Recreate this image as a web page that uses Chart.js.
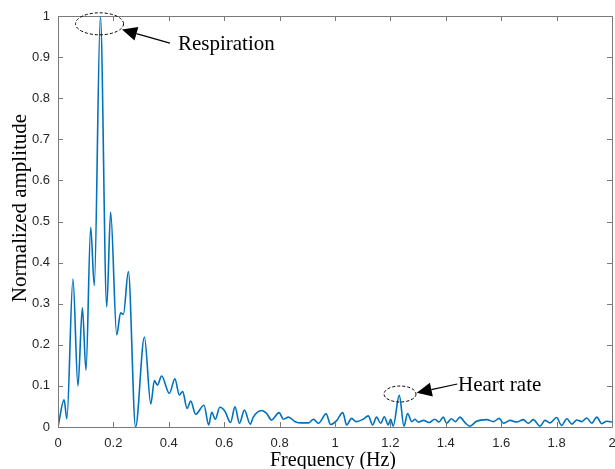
<!DOCTYPE html>
<html>
<head>
<meta charset="utf-8">
<script src="https://cdn.jsdelivr.net/npm/chart.js@4/dist/chart.umd.min.js"></script>
<style>
  html, body { margin: 0; padding: 0; background: #ffffff; }
  #wrap { width: 615px; height: 469px; position: relative; }
</style>
</head>
<body>
<div id="wrap"><canvas id="c" width="615" height="469"></canvas></div>
<script>
// ---- data ----
const frequencyHz = [
  0, 0.022, 0.032, 0.054, 0.072, 0.088, 0.101, 0.118, 0.131, 0.153,
  0.176, 0.190, 0.212, 0.226, 0.236, 0.254, 0.280, 0.312, 0.335, 0.348,
  0.359, 0.374, 0.402, 0.422, 0.438, 0.450, 0.466, 0.479, 0.497, 0.527,
  0.544, 0.555, 0.568, 0.584, 0.602, 0.623, 0.639, 0.655, 0.673, 0.694,
  0.705, 0.735, 0.753, 0.771, 0.798, 0.814, 0.832, 0.856, 0.880, 0.905,
  0.922, 0.940, 0.968, 0.984, 1.005, 1.028, 1.042, 1.060, 1.076, 1.102,
  1.120, 1.136, 1.150, 1.165, 1.178, 1.192, 1.201, 1.210, 1.232, 1.249,
  1.262, 1.277, 1.289, 1.300, 1.320, 1.340, 1.360, 1.375, 1.391, 1.403,
  1.420, 1.435, 1.451, 1.470, 1.487, 1.511, 1.548, 1.572, 1.593, 1.608,
  1.632, 1.656, 1.680, 1.698, 1.716, 1.740, 1.758, 1.776, 1.800, 1.818,
  1.837, 1.855, 1.873, 1.891, 1.909, 1.927, 1.945, 1.963, 1.981, 2.000
];
const normalizedAmplitude = [
  0.000, 0.066, 0.020, 0.360, 0.100, 0.290, 0.138, 0.486, 0.344, 1.000,
  0.292, 0.523, 0.224, 0.278, 0.274, 0.378, 0.000, 0.219, 0.056, 0.113,
  0.102, 0.124, 0.082, 0.117, 0.078, 0.086, 0.045, 0.063, 0.031, 0.053,
  0.005, 0.036, 0.019, 0.048, 0.039, 0.011, 0.049, 0.009, 0.041, 0.007,
  0.024, 0.040, 0.033, 0.017, 0.035, 0.019, 0.024, 0.013, 0.010, 0.010,
  0.019, 0.009, 0.032, 0.006, 0.015, 0.035, 0.005, 0.021, 0.013, 0.019,
  0.027, 0.005, 0.024, 0.009, 0.025, 0.005, 0.019, 0.002, 0.077, 0.002,
  0.033, 0.013, 0.019, 0.012, 0.016, 0.011, 0.019, 0.012, 0.024, 0.009,
  0.020, 0.013, 0.024, 0.010, 0.002, 0.014, 0.018, 0.013, 0.021, 0.009,
  0.016, 0.012, 0.018, 0.009, 0.018, 0.002, 0.016, 0.010, 0.023, 0.004,
  0.020, 0.007, 0.017, 0.013, 0.022, 0.009, 0.024, 0.008, 0.014, 0.012
];
const xTickValues = [0, 0.2, 0.4, 0.6, 0.8, 1, 1.2, 1.4, 1.6, 1.8, 2];
const yTickValues = [0, 0.1, 0.2, 0.3, 0.4, 0.5, 0.6, 0.7, 0.8, 0.9, 1];
const xTitle = 'Frequency (Hz)';
const yTitle = 'Normalized amplitude';
const annotationLabels = ['Respiration', 'Heart rate'];

// annotation anchors in data coordinates
const annotations = [
  { label: annotationLabels[0], ellipse: [0.150, 0.981], tip: [0.231, 0.967], tail: [0.404, 0.934], text: [0.433, 0.918] },
  { label: annotationLabels[1], ellipse: [1.2347, 0.0803], tip: [1.295, 0.0835], tail: [1.4415, 0.1046], text: [1.444, 0.0883] }
];
const ellipseRadii = [[24, 11], [16, 8]];

const points = frequencyHz.map((f, i) => ({ x: f, y: normalizedAmplitude[i] }));

const fmt = v => Number(v.toFixed(1)).toString();
const AXIS_COLOR = '#7a7a7a';
const LABEL_COLOR = '#262626';
const SERIF = '"Liberation Serif", "Times New Roman", serif';

const framePlugin = {
  id: 'frame',
  afterDatasetsDraw(chart) {
    const { ctx, chartArea: a, scales: { x, y } } = chart;
    ctx.save();
    ctx.strokeStyle = AXIS_COLOR;
    ctx.lineWidth = 1;
    ctx.beginPath();
    ctx.rect(Math.round(a.left) + 0.5, Math.round(a.top) + 0.5,
             Math.round(a.right - a.left), Math.round(a.bottom - a.top));
    ctx.stroke();
    const L = 5;
    ctx.beginPath();
    xTickValues.forEach(v => {
      const px = Math.round(x.getPixelForValue(v)) + 0.5;
      ctx.moveTo(px, a.bottom); ctx.lineTo(px, a.bottom - L);
      ctx.moveTo(px, a.top); ctx.lineTo(px, a.top + L);
    });
    yTickValues.forEach(v => {
      const py = Math.round(y.getPixelForValue(v)) + 0.5;
      ctx.moveTo(a.left, py); ctx.lineTo(a.left + L, py);
      ctx.moveTo(a.right, py); ctx.lineTo(a.right - L, py);
    });
    ctx.stroke();

    // axis titles
    ctx.fillStyle = '#000';
    ctx.font = '20px ' + SERIF;
    ctx.textAlign = 'center';
    ctx.textBaseline = 'alphabetic';
    ctx.fillText(xTitle, (a.left + a.right) / 2 - 2, 466);
    ctx.save();
    ctx.translate(26, 208);
    ctx.rotate(-Math.PI / 2);
    ctx.font = '21px ' + SERIF;
    ctx.fillText(yTitle, 0, 0);
    ctx.restore();

    // annotations
    annotations.forEach((an, i) => {
      const ex = x.getPixelForValue(an.ellipse[0]);
      const ey = y.getPixelForValue(an.ellipse[1]);
      ctx.save();
      ctx.strokeStyle = '#000';
      ctx.lineWidth = 1;
      ctx.setLineDash([3, 2]);
      ctx.beginPath();
      ctx.ellipse(ex, ey, ellipseRadii[i][0], ellipseRadii[i][1], 0, 0, Math.PI * 2);
      ctx.stroke();
      ctx.restore();

      const tx = x.getPixelForValue(an.tip[0]), ty = y.getPixelForValue(an.tip[1]);
      const sx = x.getPixelForValue(an.tail[0]), sy = y.getPixelForValue(an.tail[1]);
      const ang = Math.atan2(ty - sy, tx - sx);
      const hl = 15, hw = 7;
      const bx = tx - hl * Math.cos(ang), by = ty - hl * Math.sin(ang);
      ctx.strokeStyle = '#000';
      ctx.lineWidth = 1.2;
      ctx.beginPath();
      ctx.moveTo(sx, sy); ctx.lineTo(bx, by);
      ctx.stroke();
      ctx.fillStyle = '#000';
      ctx.beginPath();
      ctx.moveTo(tx, ty);
      ctx.lineTo(bx + hw * Math.sin(ang), by - hw * Math.cos(ang));
      ctx.lineTo(bx - hw * Math.sin(ang), by + hw * Math.cos(ang));
      ctx.closePath();
      ctx.fill();

      ctx.font = '21px ' + SERIF;
      ctx.textAlign = 'left';
      ctx.textBaseline = 'alphabetic';
      ctx.fillText(an.label, x.getPixelForValue(an.text[0]), y.getPixelForValue(an.text[1]));
    });
    ctx.restore();
  }
};

new Chart(document.getElementById('c'), {
  type: 'line',
  data: {
    datasets: [{
      data: points,
      borderColor: '#0072BD',
      borderWidth: 1.6,
      pointRadius: 0,
      fill: false,
      cubicInterpolationMode: 'monotone'
    }]
  },
  options: {
    responsive: false,
    animation: false,
    events: [],
    layout: { padding: { left: 0, right: 3, top: 16, bottom: 0 } },
    plugins: { legend: { display: false }, tooltip: { enabled: false } },
    scales: {
      x: {
        type: 'linear', min: 0, max: 2,
        afterFit(s) { s.height = 42; s.paddingLeft = 0; s.paddingRight = 0; },
        afterBuildTicks(s) { s.ticks = xTickValues.map(v => ({ value: v })); },
        grid: { display: false },
        border: { display: false },
        ticks: {
          autoSkip: false, maxRotation: 0, padding: 1,
          color: LABEL_COLOR,
          font: { family: '"Liberation Sans", Arial, sans-serif', size: 13 },
          callback: v => fmt(v)
        }
      },
      y: {
        type: 'linear', min: 0, max: 1,
        afterFit(s) { s.width = 58; s.paddingTop = 0; s.paddingBottom = 0; },
        afterBuildTicks(s) { s.ticks = yTickValues.map(v => ({ value: v })); },
        grid: { display: false },
        border: { display: false },
        ticks: {
          autoSkip: false, padding: 0,
          color: LABEL_COLOR,
          font: { family: '"Liberation Sans", Arial, sans-serif', size: 13 },
          callback: v => fmt(v)
        }
      }
    }
  },
  plugins: [framePlugin]
});
</script>
</body>
</html>
